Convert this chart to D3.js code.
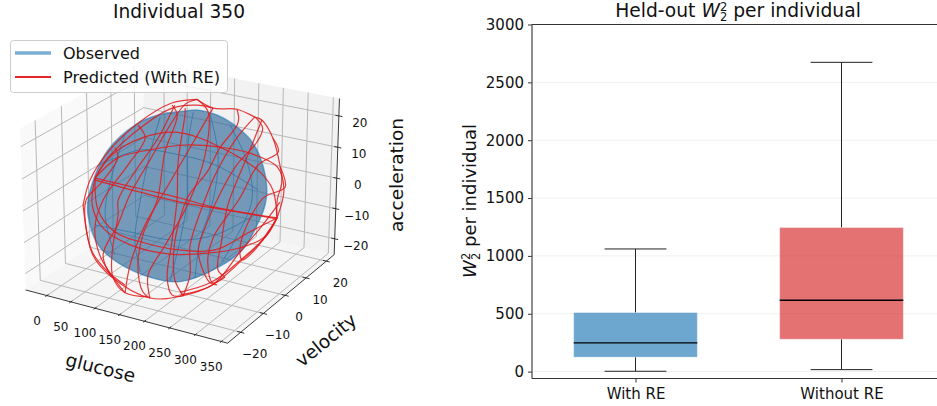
<!DOCTYPE html>
<html>
<head>
<meta charset="utf-8">
<title>Held-out W2 per individual</title>
<script src="https://cdnjs.cloudflare.com/ajax/libs/d3/7.8.5/d3.min.js"></script>
<style>
	html, body { margin: 0; padding: 0; background: #fff; overflow: hidden; }
	svg { display: block; }
	text { font-family: "DejaVu Sans", sans-serif; fill: #111; }
	.curve { fill: none; stroke-linejoin: round; }
	.box-axis .domain { display: none; }
	.box-axis line { stroke: #333; }
	.box-axis text { font-family: "DejaVu Sans", sans-serif; fill: #111; }
</style>
</head>
<body>
<script>
// left panel, axis ranges and ticks
var glucoseRange = [-45, 362],
	velocityRange = [-25.6, 24],
	accelerationRange = [-25.3, 25.5];
var glucoseTicks = [0, 50, 100, 150, 200, 250, 300, 350],
	velocityTicks = [-20, -10, 0, 10, 20],
	accelerationTicks = [-20, -10, 0, 10, 20];

// [glucose, velocity, acceleration]
var observedOutline = [
	[151,6.8,22.9],[183,8.7,21.5],[218,9.9,18.3],[248,10.5,13.9],[271,9.9,8.0],[285,8.7,1.7],[288,7.3,-2.9],
	[283,4.9,-8.3],[269,1.5,-15.1],[231,-3.1,-20.5],[184,-7.5,-23.7],[140,-10.2,-22.7],[83,-12.8,-18.6],
	[46,-13.7,-13.7],[20,-12.6,-5.6],[15,-11.5,-1.5],[17,-8.9,5.2],[28,-5.7,12.0],[61,-1,18.8],[93,2.3,21.5],[133,5.5,22.6]
];
var observedOrbits = [
	[[146,6.3,22.3],[149,3.3,13.4],[167,-0.8,-1.5],[170,-4.5,-12.4],[169,-8.6,-23.5]],
	[[173,7.9,21.5],[199,5.8,10.7],[207,2,-1.5],[201,-2.4,-12.4],[206,-5.6,-22.7]],
	[[207,9.3,18.8],[246,8.4,8.8],[266,6.3,-1.5],[254,1.4,-12.4],[242,-1.6,-18.3]],
	[[97,2.3,21.0],[94,-1.6,10.7],[95,-5.8,-1.5],[101,-9.4,-12.4],[120,-11.1,-21.0]],
	[[49,-2.8,16.1],[43,-7.1,5.2],[46,-10.7,-5.6],[75,-12.6,-16.4]],
	[[21,-7.7,8.0],[77,-2.2,12.0],[140,1.7,10.7],[198,4.8,8.0],[272,7.6,1.2]],
	[[34,-12.6,-8.3],[90,-9.3,-10.2],[162,-5.1,-12.4],[222,-0.3,-11.0],[276,5.5,-5.6]]
];
var predictedOrbits = [
	[[18,-9.1,4.4],[36,-5.7,10.7],[76,-1.1,15.3],[125,2.8,16.9],[165,5.1,15.3],[199,6.6,12.8],[234,8,9.9],[269,9.1,6.1],[295,9.2,1.2],[311,7.6,-6.4]],
	[[18,-9.1,4.4],[46,-5.2,9.9],[90,-1.4,12.0],[145,3,13.4],[199,6.6,12.8],[247,9.4,11.2],[294,11.4,7.4],[312,10.4,1.2],[311,7.6,-6.4]],
	[[18,-9.1,4.4],[91,-5,1.5],[155,-1.4,-1.0],[209,1.5,-3.4],[311,7.6,-6.4]],
	[[19,-9.3,3.9],[92,-5.3,0.6],[157,-1.7,-2.1],[257,4.3,-5],[311,7.6,-6.7]],
	[[18,-9.1,4.4],[23,-11.4,-2.9],[47,-11.9,-9.1],[95,-10.2,-13.7],[159,-6.6,-16.2],[220,-2.2,-15.9],[265,1.5,-14.5],[297,4.6,-11.8],[311,7.6,-6.4]],
	[[18,-9.1,4.4],[34,-11.2,-4.2],[67,-10.9,-10.2],[117,-8.5,-13.2],[173,-5.2,-15.1],[227,-1.4,-15.1],[274,3.6,-10.2],[311,7.6,-6.4]],
	[[147,7.6,25.8],[175,8.7,23.4],[212,11.2,23.1],[242,12.6,21.0],[254,13.1,20.2],[277,13,15.3],[297,11.8,8.0],[306,10.8,3.4],[305,9,-1.5],[311,7.6,-6.4]],
	[[147,7.6,25.8],[110,4.6,24.8],[65,-0.5,19.3],[29,-5.8,11.5],[11,-9.8,3.9],[9,-12.4,-2.9]],
	[[9,-12.4,-2.9],[41,-15,-16.4],[78,-14.6,-22.4],[144,-12,-28.1],[194,-8.2,-27.5],[235,-4.3,-24.6],[272,0.8,-17.8],[297,4.4,-12.4],[311,7.6,-6.4]],
	[[38,-4.7,12.6],[46,-5.2,9.9],[30,-8.6,3.4],[12,-11.7,-1.5],[20,-13.6,-8.3],[39,-14.8,-15.6],[70,-14.6,-21.0],[101,-13.7,-24.6]],
	[[66,-0.7,18.8],[81,-0.8,15.3],[64,-4.6,8.0],[38,-9.8,-1.5],[35,-12.8,-9.1],[52,-14.3,-16.4],[80,-14.5,-22.4],[104,-14.3,-26.7]],
	[[115,4.8,24.2],[101,0.6,15.3],[77,-4.4,6.1],[61,-8.2,-1.5],[66,-9.3,-5.6],[70,-12.7,-15.6],[80,-14.5,-22.4],[104,-14.3,-26.7],[140,-12.1,-27.8]],
	[[111,4.5,24.2],[122,4.4,21.5],[116,0.4,11.5],[121,-4,-1.5],[111,-8.1,-11.0],[114,-10.9,-19.1],[131,-12.3,-26.5],[144,-12,-28.1]],
	[[132,5.7,23.4],[134,5.2,21.5],[140,1,8.8],[151,-1.8,-1.5],[158,-5.5,-12.9],[163,-8.6,-22.7],[177,-9.4,-27.3],[194,-8.2,-27.5]],
	[[147,7.6,25.8],[169,7.9,22.3],[179,4.4,10.7],[171,-0.4,-1.5],[149,-6.4,-13.7],[133,-10.5,-21.9],[144,-12,-28.1]],
	[[147,7.6,25.8],[131,6,24.5],[115,2.8,18.8],[96,-1.9,9.3],[77,-6.6,-0.2],[69,-10.1,-8.3],[57,-13.9,-16.4],[78,-14.6,-22.4]],
	[[212,11.2,23.1],[218,10.7,20.7],[218,10,18.8],[199,6.6,12.6],[188,3.4,6.1],[167,-0.5,-0.7],[162,-3.6,-8.3],[164,-5.9,-15.1],[176,-8,-23.2],[194,-8.2,-27.5]],
	[[242,12.6,21.0],[258,12.6,18.0],[254,11,14.2],[231,7.1,8.0],[217,3.7,1.2],[204,-0.9,-9.1],[202,-3.4,-15.6],[231,-4.4,-24.0],[242,-3.7,-24.6]],
	[[277,13,15.3],[290,12.6,11.5],[264,9.4,8.0],[247,5.1,-1.0],[220,-0.8,-11.8],[220,-3.1,-18.3],[235,-4.1,-24.0],[252,-2.4,-22.4]],
	[[298,11.7,7.4],[313,10.7,2.0],[283,7.5,-1.0],[264,1.7,-13.7],[272,0.8,-17.8],[288,2.9,-15.1],[302,5.6,-10.2],[311,7.6,-6.4]],
	[[310,9.1,-2.1],[289,5,-9.1],[266,1.2,-15.6],[235,-4.3,-24.6],[189,-8.5,-27.3]],
	[[175,8.7,23.4],[153,3.4,12.6],[130,-2.4,1.2],[111,-7.2,-8.3],[102,-11.7,-19.1],[104,-14.3,-26.7]],
	[[242,12.6,21.0],[220,8.7,14.7],[201,4.1,5.2],[194,1.2,-1.5],[187,-3.7,-13.7],[197,-5.9,-21.9],[194,-8.2,-27.5]],
	[[254,13.1,20.2],[246,9.6,12.0],[231,3.3,-2.9],[234,0,-12.4],[238,-2.5,-20.5],[252,-2.4,-22.4]],
	[[188,-8.3,-26.5],[233,-4.1,-23.8],[273,1,-17.2],[302,5.3,-11.0],[311,7.6,-6.4]],
	[[18,-9.1,4.4],[31,-6.3,9.9],[70,-0.6,18],[112,4.3,23.4],[149,7.2,24.2],[175,8.7,23.4]]
];

// right panel values
var boxLabels = ["With RE", "Without RE"],
	boxPositions = [1, 2],
	whiskerLow = [3, 17],
	quartileLow = [125, 280],
	boxMedian = [248, 617],
	quartileHigh = [510, 1245],
	whiskerHigh = [1060, 2673];
var boxTicks = [0, 500, 1000, 1500, 2000, 2500, 3000];

var width = 937, height = 406;
var svg = d3.select("body").append("svg")
	.attr("width", width)
	.attr("height", height)
	.attr("viewBox", "0 0 " + width + " " + height);

// ---- 3D panel: same camera maths as mplot3d (elev 23, azim -60, dist 10) ----
var elev = 23 * Math.PI / 180,
	azim = -60 * Math.PI / 180,
	dist = 10;
var w = [Math.cos(elev) * Math.cos(azim), Math.cos(elev) * Math.sin(azim), Math.sin(elev)],
	u = [-Math.sin(azim), Math.cos(azim), 0],
	n = [w[1] * u[2] - w[2] * u[1], w[2] * u[0] - w[0] * u[2], w[0] * u[1] - w[1] * u[0]];

var gScale = d3.scaleLinear().domain(glucoseRange).range([-0.595, 0.595]),
	vScale = d3.scaleLinear().domain(velocityRange).range([-0.595, 0.595]),
	aScale = d3.scaleLinear().domain(accelerationRange).range([-0.4465, 0.4465]),
	screenX = d3.scaleLinear().domain([-1, 1]).range([183 - 193, 183 + 193]),
	screenY = d3.scaleLinear().domain([-1, 1]).range([194 + 193, 194 - 193]);

function dot(a, b) { return a[0] * b[0] + a[1] * b[1] + a[2] * b[2]; }

function project(d) {
	var p = [gScale(d[0]), vScale(d[1]), aScale(d[2])],
		f = dist / (dist - dot(p, w));
	return [screenX(dot(p, u) * f), screenY(dot(p, n) * f)];
}

var gMin = glucoseRange[0], gMax = glucoseRange[1],
	vMin = velocityRange[0], vMax = velocityRange[1],
	aMin = accelerationRange[0], aMax = accelerationRange[1];

var panel = svg.append("g").attr("class", "panel3d");

var panes = [
	{ fill: "#f9f9f9", corners: [[gMin,vMin,aMin],[gMin,vMax,aMin],[gMin,vMax,aMax],[gMin,vMin,aMax]] },
	{ fill: "#f2f2f2", corners: [[gMin,vMax,aMin],[gMax,vMax,aMin],[gMax,vMax,aMax],[gMin,vMax,aMax]] },
	{ fill: "#f5f5f5", corners: [[gMin,vMin,aMin],[gMax,vMin,aMin],[gMax,vMax,aMin],[gMin,vMax,aMin]] }
];
panel.selectAll("polygon.pane")
	.data(panes)
	.enter()
	.append("polygon")
		.attr("class", "pane")
		.attr("fill", function(d) { return d.fill; })
		.attr("points", function(d) { return d.corners.map(project).join(" "); });

var gridSegments = [];
glucoseTicks.forEach(function(t) {
	gridSegments.push([[t,vMin,aMin],[t,vMax,aMin]]);
	gridSegments.push([[t,vMax,aMin],[t,vMax,aMax]]);
});
velocityTicks.forEach(function(t) {
	gridSegments.push([[gMax,t,aMin],[gMin,t,aMin]]);
	gridSegments.push([[gMin,t,aMin],[gMin,t,aMax]]);
});
accelerationTicks.forEach(function(t) {
	gridSegments.push([[gMin,vMin,t],[gMin,vMax,t]]);
	gridSegments.push([[gMin,vMax,t],[gMax,vMax,t]]);
});

var segment = d3.line();
panel.selectAll("path.grid")
	.data(gridSegments)
	.enter()
	.append("path")
		.attr("class", "grid")
		.attr("d", function(d) { return segment(d.map(project)); })
		.attr("fill", "none")
		.attr("stroke", "#b8b8b8")
		.attr("stroke-width", 1);

// axis edges and tick marks
var axisSegments = [
	[[gMin,vMin,aMin],[gMax,vMin,aMin]],
	[[gMax,vMin,aMin],[gMax,vMax,aMin]],
	[[gMax,vMax,aMin],[gMax,vMax,aMax]]
];
glucoseTicks.forEach(function(t) { axisSegments.push([[t,vMin-0.6,aMin],[t,vMin+0.6,aMin]]); });
velocityTicks.forEach(function(t) { axisSegments.push([[gMax-7,t,aMin],[gMax+7,t,aMin]]); });
accelerationTicks.forEach(function(t) { axisSegments.push([[gMax-7,vMax,t],[gMax+7,vMax,t]]); });

panel.selectAll("path.axis3d")
	.data(axisSegments)
	.enter()
	.append("path")
		.attr("class", "axis3d")
		.attr("d", function(d) { return segment(d.map(project)); })
		.attr("fill", "none")
		.attr("stroke", "#222")
		.attr("stroke-width", 0.9);

// observed trajectories
var orbit = d3.line().curve(d3.curveCatmullRom.alpha(0.5));
var closedOrbit = d3.line().curve(d3.curveCatmullRomClosed.alpha(0.5));

panel.append("path")
	.datum(observedOutline)
	.attr("class", "curve")
	.attr("d", function(d) { return closedOrbit(d.map(project)); })
	.style("fill", "#2f6796")
	.style("fill-opacity", 0.65)
	.style("stroke", "#1f77b4")
	.style("stroke-opacity", 0.55)
	.style("stroke-width", 1.5);

panel.selectAll("path.observed")
	.data(observedOrbits)
	.enter()
	.append("path")
		.attr("class", "curve observed")
		.attr("d", function(d) { return orbit(d.map(project)); })
		.style("stroke", "#2a6fa3")
		.style("stroke-opacity", 0.7)
		.style("stroke-width", 1);

panel.selectAll("path.predicted")
	.data(predictedOrbits)
	.enter()
	.append("path")
		.attr("class", "curve predicted")
		.attr("d", function(d) { return orbit(d.map(project)); })
		.style("stroke", "#e31a1c")
		.style("stroke-opacity", 0.85)
		.style("stroke-width", 1.2);

// 3D tick labels
function minusFormat(t) { return String(t).replace("-", "\u2212"); }

function tickLabels(cls, ticks, toPoint, ox, oy) {
	panel.selectAll("text." + cls)
		.data(ticks)
		.enter()
		.append("text")
			.attr("class", cls)
			.attr("x", function(t) { return project(toPoint(t))[0] + ox; })
			.attr("y", function(t) { return project(toPoint(t))[1] + oy; })
			.attr("text-anchor", "middle")
			.attr("font-size", 12)
			.text(minusFormat);
}
tickLabels("gtick", glucoseTicks, function(t) { return [t, vMin, aMin]; }, -10, 29);
tickLabels("vtick", velocityTicks, function(t) { return [gMax, t, aMin]; }, 14, 26);
tickLabels("atick", accelerationTicks, function(t) { return [gMax, vMax, t]; }, 21, 11);

panel.append("text")
	.attr("transform", "translate(99,374) rotate(14)")
	.attr("text-anchor", "middle")
	.attr("font-size", 18.5)
	.text("glucose");
panel.append("text")
	.attr("transform", "translate(330,345) rotate(-39)")
	.attr("text-anchor", "middle")
	.attr("font-size", 18.5)
	.text("velocity");
panel.append("text")
	.attr("transform", "translate(403,175) rotate(-90)")
	.attr("text-anchor", "middle")
	.attr("font-size", 18.5)
	.text("acceleration");
panel.append("text")
	.attr("x", 179)
	.attr("y", 18)
	.attr("text-anchor", "middle")
	.attr("font-size", 18.6)
	.text("Individual 350");

// legend
var legend = panel.append("g").attr("class", "legend");
legend.append("rect")
	.attr("x", 10.5).attr("y", 40.5)
	.attr("width", 217).attr("height", 52)
	.attr("rx", 3)
	.attr("fill", "#fff").attr("fill-opacity", 0.8)
	.attr("stroke", "#ccc").attr("stroke-width", 1);
legend.append("line")
	.attr("x1", 15).attr("x2", 51).attr("y1", 53).attr("y2", 53)
	.attr("stroke", "#1f77b4").attr("stroke-opacity", 0.6).attr("stroke-width", 3.5);
legend.append("line")
	.attr("x1", 15).attr("x2", 51).attr("y1", 77).attr("y2", 77)
	.attr("stroke", "#e31a1c").attr("stroke-opacity", 0.95).attr("stroke-width", 1.8);
legend.append("text").attr("x", 63).attr("y", 59).attr("font-size", 16).text("Observed");
legend.append("text").attr("x", 63).attr("y", 83).attr("font-size", 16.2).text("Predicted (With RE)");

// ---- box plot ----
var boxX = d3.scaleLinear().domain([0.5, 2.5]).range([532.5, 944.5]),
	boxY = d3.scaleLinear().domain([-59.6, 3000]).range([378.5, 24.5]);
var boxColors = ["#1f77b4", "#d62728"];
var boxWidth = 0.6, capWidth = 0.3;

var right = svg.append("g").attr("class", "panel-box");

right.selectAll("line.ygrid")
	.data(boxTicks.slice(0, -1))
	.enter()
	.append("line")
		.attr("class", "ygrid")
		.attr("x1", boxX(0.5)).attr("x2", boxX(2.5))
		.attr("y1", function(d) { return boxY(d); })
		.attr("y2", function(d) { return boxY(d); })
		.attr("stroke", "#f0f0f0")
		.attr("stroke-width", 1);

var boxes = right.selectAll("g.box")
	.data(boxPositions)
	.enter()
	.append("g")
		.attr("class", "box");

boxes.append("line")
	.attr("x1", function(d) { return boxX(d); })
	.attr("x2", function(d) { return boxX(d); })
	.attr("y1", function(d, i) { return boxY(whiskerLow[i]); })
	.attr("y2", function(d, i) { return boxY(quartileLow[i]); })
	.attr("stroke", "#222");
boxes.append("line")
	.attr("x1", function(d) { return boxX(d); })
	.attr("x2", function(d) { return boxX(d); })
	.attr("y1", function(d, i) { return boxY(quartileHigh[i]); })
	.attr("y2", function(d, i) { return boxY(whiskerHigh[i]); })
	.attr("stroke", "#222");

[whiskerLow, whiskerHigh].forEach(function(values) {
	boxes.append("line")
		.attr("x1", function(d) { return boxX(d - capWidth / 2); })
		.attr("x2", function(d) { return boxX(d + capWidth / 2); })
		.attr("y1", function(d, i) { return boxY(values[i]); })
		.attr("y2", function(d, i) { return boxY(values[i]); })
		.attr("stroke", "#222");
});

boxes.append("rect")
	.attr("x", function(d) { return boxX(d - boxWidth / 2); })
	.attr("width", boxX(1 + boxWidth) - boxX(1))
	.attr("y", function(d, i) { return boxY(quartileHigh[i]); })
	.attr("height", function(d, i) { return boxY(quartileLow[i]) - boxY(quartileHigh[i]); })
	.attr("fill", function(d, i) { return boxColors[i]; })
	.attr("fill-opacity", 0.65)
	.attr("stroke", "#fff")
	.attr("stroke-opacity", 0.3);

boxes.append("line")
	.attr("x1", function(d) { return boxX(d - boxWidth / 2); })
	.attr("x2", function(d) { return boxX(d + boxWidth / 2); })
	.attr("y1", function(d, i) { return boxY(boxMedian[i]); })
	.attr("y2", function(d, i) { return boxY(boxMedian[i]); })
	.attr("stroke", "#000")
	.attr("stroke-width", 1.4);

right.append("g")
	.attr("class", "box-axis")
	.attr("transform", "translate(532,0)")
	.call(d3.axisLeft(boxY).tickValues(boxTicks).tickFormat(d3.format("d")).tickSize(4).tickPadding(4))
	.style("font-size", "15px");

right.append("g")
	.attr("class", "box-axis")
	.attr("transform", "translate(0,378.5)")
	.call(d3.axisBottom(boxX).tickValues(boxPositions)
		.tickFormat(function(d, i) { return boxLabels[i]; })
		.tickSize(4).tickPadding(6))
	.style("font-size", "15px");

// spines
right.append("line")
	.attr("x1", 532).attr("x2", 532).attr("y1", 24.5).attr("y2", 378.5)
	.attr("stroke", "#444").attr("stroke-width", 1.2);
right.append("line")
	.attr("x1", 532).attr("x2", width).attr("y1", 378.5).attr("y2", 378.5)
	.attr("stroke", "#333");
right.append("line")
	.attr("x1", 532).attr("x2", width).attr("y1", 24.5).attr("y2", 24.5)
	.attr("stroke", "#333");

// title and y label with the stacked W_2^2
function wasserstein(sel) {
	sel.append("tspan").attr("font-style", "italic").text("W");
	sel.append("tspan").attr("font-size", 11.5).attr("dy", -6).text("2");
	sel.append("tspan").attr("font-size", 11.5).attr("dy", 10).attr("dx", -7.3).text("2");
	sel.append("tspan").attr("dy", -4).text(" per individual");
}

var boxTitle = right.append("text")
	.attr("x", 738)
	.attr("y", 17)
	.attr("text-anchor", "middle")
	.attr("font-size", 18.7);
boxTitle.append("tspan").text("Held-out ");
wasserstein(boxTitle);

var boxYLabel = right.append("text")
	.attr("transform", "translate(476,201) rotate(-90)")
	.attr("text-anchor", "middle")
	.attr("font-size", 18);
wasserstein(boxYLabel);
</script>
</body>
</html>
